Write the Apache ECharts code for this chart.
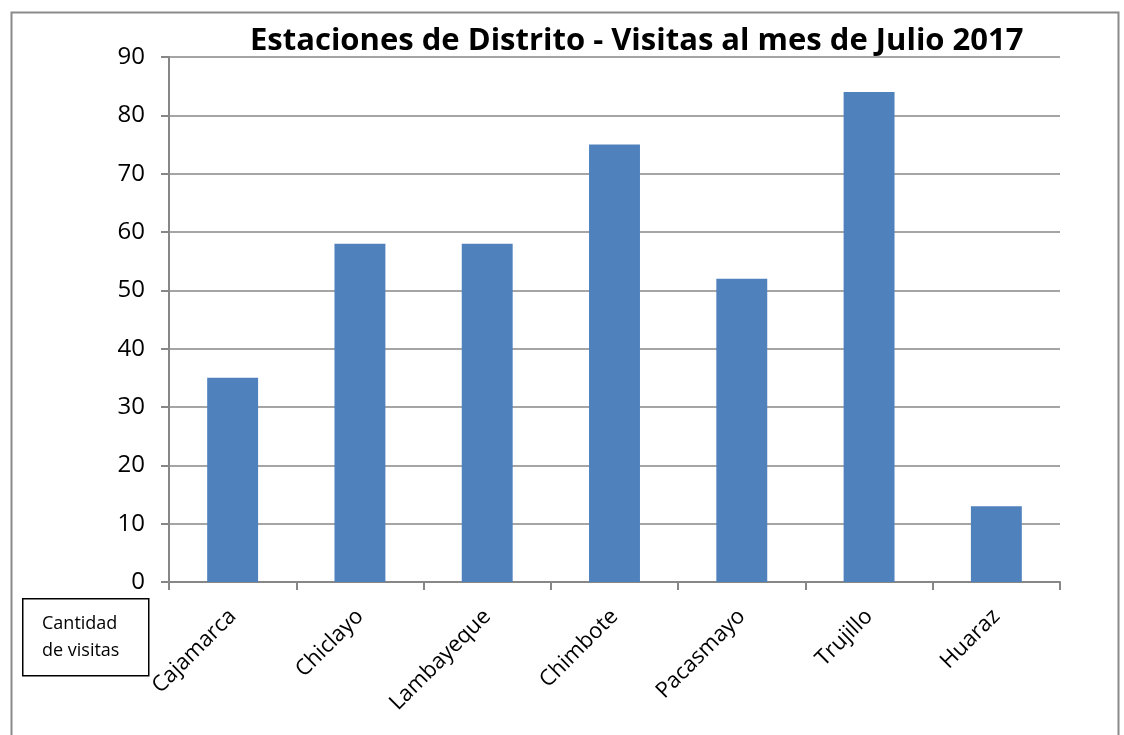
<!DOCTYPE html>
<html>
<head>
<meta charset="utf-8">
<script src="https://cdn.jsdelivr.net/npm/echarts@6/dist/echarts.min.js"></script>
<style>
  html, body { margin: 0; padding: 0; background: #fff; }
  #chart { width: 1124px; height: 735px; }
</style>
</head>
<body>
<div id="chart"></div>
<script>
const categories = ['Cajamarca', 'Chiclayo', 'Lambayeque', 'Chimbote', 'Pacasmayo', 'Trujillo', 'Huaraz']
const visitas = [35, 58, 58, 75, 52, 84, 13]
const titleText = 'Estaciones de Distrito - Visitas al mes de Julio 2017'
const boxLines = ['Cantidad', 'de visitas']

const font = '"Open Sans", "Noto Sans", sans-serif'
const lineColor = '#878787'

const chart = echarts.init(document.getElementById('chart'))

const option = {
  animation: false,
  title: {
    text: titleText,
    left: 245,
    top: 21,
    textStyle: {
      fontFamily: font,
      fontWeight: 'bold',
      fontSize: 31,
      color: '#000'
    }
  },
  grid: {
    left: 169,
    right: 64,
    top: 57,
    bottom: 153,
    containLabel: false
  },
  xAxis: {
    type: 'category',
    data: categories,
    axisLine: { show: true, lineStyle: { color: lineColor, width: 2 } },
    axisTick: { show: true, alignWithLabel: false, length: 8, lineStyle: { color: lineColor, width: 2 } },
    axisLabel: {
      rotate: 45,
      interval: 0,
      margin: 31,
      fontFamily: font,
      fontSize: 22,
      color: '#000'
    }
  },
  yAxis: {
    type: 'value',
    min: 0,
    max: 90,
    interval: 10,
    axisLine: { show: true, lineStyle: { color: lineColor, width: 2 } },
    axisTick: { show: true, length: 8, lineStyle: { color: lineColor, width: 2 } },
    splitLine: { show: true, lineStyle: { color: lineColor, width: 1.5 } },
    axisLabel: {
      margin: 24,
      fontFamily: font,
      fontSize: 24,
      color: '#000'
    }
  },
  series: [{
    type: 'bar',
    data: visitas,
    barWidth: '40%',
    itemStyle: { color: '#4F81BD' }
  }],
  graphic: [
    {
      type: 'rect',
      left: 9,
      top: 10,
      shape: { width: 1107, height: 740 },
      style: { fill: 'none', stroke: '#8a8a8a', lineWidth: 2 },
      z: 0
    },
    {
      type: 'rect',
      left: 22,
      top: 598,
      shape: { width: 126, height: 77 },
      style: { fill: '#fff', stroke: '#000', lineWidth: 1.5 },
      z: 10
    },
    {
      type: 'text',
      left: 42,
      top: 610,
      style: {
        text: boxLines.join('\n'),
        font: '18px ' + font,
        lineHeight: 27,
        fill: '#000'
      },
      z: 11
    }
  ]
}

chart.setOption(option)
</script>
</body>
</html>
